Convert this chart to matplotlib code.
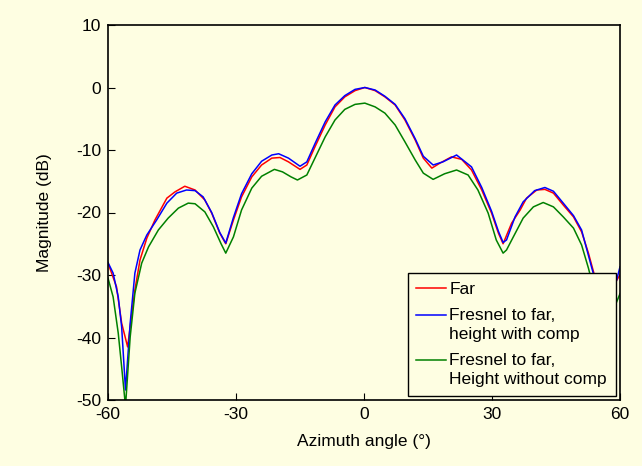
import numpy as np
from matplotlib import pyplot as plt

plt.rcParams['font.family'] = ['Liberation Sans', 'DejaVu Sans']
plt.rcParams['axes.unicode_minus'] = False

# Far field
far_x = [-60, -58, -56.8, -55.4, -53.7, -52.5, -50.9, -49, -46.2, -44.3, -42, -39.6, -37.3, -35.7,
         -33.8, -32.4, -30.6, -28.7, -26.3, -24, -21.6, -19.7, -17.7, -15, -13.4, -11.5, -9.1, -6.8,
         -4.5, -2.1, 0.2, 2.6, 4.9, 7.3, 9.6, 12, 13.9, 15.9, 17.8, 20.5, 22.9, 25.2, 27.6, 29.9,
         31.5, 32.6, 34.6, 36.6, 38.1, 40.5, 42.4, 44.4, 46.7, 49.1, 51, 52.6, 53.8, 55.5, 57, 58.8, 60]
far_y = [-28.1, -31.9, -37.7, -41.5, -32.4, -27.6, -24.1, -21.2, -17.7, -16.7, -15.8, -16.4, -18, -20.1,
         -23.3, -25.0, -21.2, -17.5, -14.3, -12.4, -11.3, -11.2, -11.9, -13.1, -12.4, -9.5, -6, -3.1,
         -1.5, -0.5, 0, -0.5, -1.5, -2.8, -5.2, -8.4, -11.3, -12.9, -12.1, -11.1, -11.5, -13.2, -16.4, -20.1,
         -23.3, -25.0, -21.7, -19.6, -17.7, -16.4, -16.3, -16.9, -18.8, -20.7, -23.1, -26.5, -29.5, -34, -37, -31.3, -30]

# Fresnel to far, height with comp
comp_x = [-60, -58.8, -57.6, -56.8, -55.9, -54.8, -53.7, -52.5, -50.9, -48.6, -46.2, -43.9, -41.6, -39.6,
          -37.7, -35.7, -33.8, -32.4, -30.6, -28.7, -26.3, -24, -21.6, -20, -17.7, -15, -13.4, -11.5,
          -9.1, -6.8, -4.5, -2.1, 0.2, 2.6, 4.9, 7.3, 9.6, 12, 13.9, 16.2, 18.5, 21.7, 25.2, 27.6,
          29.9, 31.5, 32.6, 33.4, 35.4, 37.3, 40, 42.4, 44.4, 46.7, 49.1, 51, 53.4, 55.5, 57, 58.8, 60]
comp_y = [-28, -29.7, -33.5, -38.3, -48.4, -37.7, -29.7, -26, -23.6, -21.2, -18.5, -16.9, -16.4, -16.5,
          -17.5, -20, -23.2, -24.9, -20.8, -17.0, -13.8, -11.8, -10.8, -10.6, -11.3, -12.6, -11.9, -9.0,
          -5.5, -2.8, -1.3, -0.3, 0, -0.4, -1.4, -2.7, -5.0, -8.2, -11.0, -12.4, -11.9, -10.8, -12.7, -16.0,
          -19.8, -23.0, -24.8, -24.4, -20.7, -18.3, -16.5, -16.0, -16.6, -18.5, -20.5, -22.8, -28.9, -34, -37, -31.9, -28.7]

# Fresnel to far, height without comp
nocomp_x = [-60, -58.8, -57.6, -56.8, -55.9, -54.8, -53.7, -52.1, -50.5, -48.2, -45.9, -43.5, -41.2, -39.6,
            -37.3, -35.3, -33.5, -32.4, -30.6, -28.7, -26.3, -24, -21, -19.1, -17.1, -15.6, -13.4, -11.5,
            -9.1, -6.8, -4.5, -2.1, 0.2, 2.6, 4.9, 7.3, 9.6, 12, 13.9, 16.2, 18.9, 21.7, 24.4, 26.7,
            29.1, 31, 32.6, 33.4, 35, 37.3, 39.7, 42, 44.4, 46.7, 49.1, 51, 52.6, 54.5, 56.5, 58.8, 60]
nocomp_y = [-30.5, -33.5, -39.3, -44.7, -51, -39.9, -32.9, -28.1, -25.5, -22.8, -20.9, -19.3, -18.5, -18.6,
            -19.9, -22.3, -25.0, -26.5, -23.9, -19.6, -16.1, -14.2, -13.1, -13.5, -14.3, -14.8, -14.0, -11.3,
            -7.9, -5.2, -3.5, -2.7, -2.5, -3.1, -4.1, -6.0, -8.7, -11.6, -13.7, -14.7, -13.8, -13.2, -14.0, -16.4,
            -20.1, -24.4, -26.5, -26.0, -23.9, -20.9, -19.1, -18.4, -19.1, -20.7, -22.5, -25.2, -28.9, -34, -40, -35, -33]

xticks = [-60, -30, 0, 30, 60]
yticks = [-50, -40, -30, -20, -10, 0, 10]

bg = '#FEFEE2'
fig = plt.figure(figsize=(6.42, 4.66), dpi=100, facecolor=bg)
ax = fig.add_axes([108/642, 1 - 400/466, 512/642, 375/466], facecolor=bg)

ax.plot(far_x, far_y, color='#FF0000', lw=1.1, label='Far')
ax.plot(comp_x, comp_y, color='#0000FF', lw=1.1, label='Fresnel to far,\nheight with comp')
ax.plot(nocomp_x, nocomp_y, color='#008000', lw=1.1, label='Fresnel to far,\nHeight without comp')

ax.set_xlim(-60, 60)
ax.set_ylim(-50, 10)
ax.set_xticks(xticks)
ax.set_yticks(yticks)
ax.tick_params(direction='in', length=5, labelsize=12.5, pad=5)
for sp in ax.spines.values():
    sp.set_linewidth(1.2)

ax.set_xlabel('Azimuth angle (°)', fontsize=12.5, labelpad=9)
ax.set_ylabel('Magnitude (dB)', fontsize=12.5, labelpad=17)

leg = ax.legend(loc='lower right', fontsize=12.5, fancybox=False, framealpha=1,
                facecolor=bg, edgecolor='black', borderaxespad=0.25,
                handlelength=1.7, handletextpad=0.2, labelspacing=0.65, borderpad=0.5)
leg.get_frame().set_linewidth(1.0)
for t in leg.get_texts():
    t.set_linespacing(1.3)
# handles sit on the first line of two-line labels
for ln in leg.get_lines()[1:]:
    ln.set_ydata(np.asarray(ln.get_ydata()) + 7.5)

fig.savefig('out.png', dpi=100, facecolor=bg)
